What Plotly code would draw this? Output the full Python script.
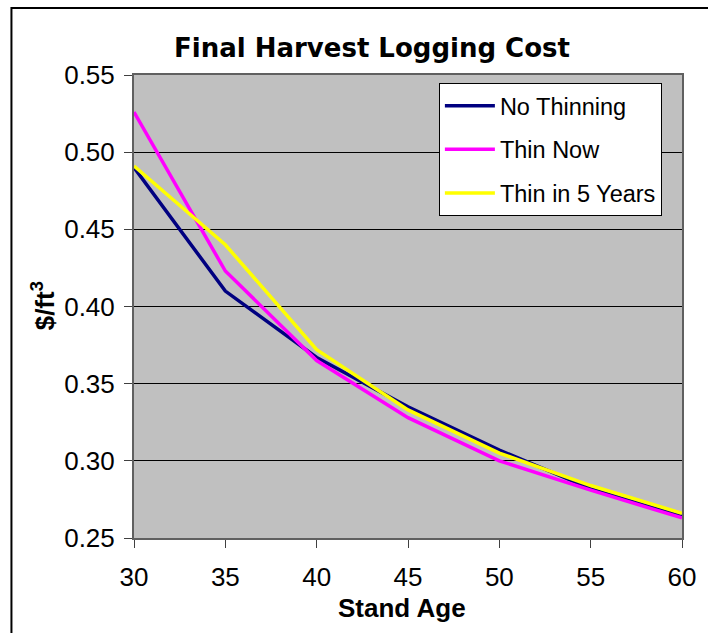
import plotly.graph_objects as go

stand_age = [30, 35, 40, 45, 50, 55, 60]
no_thinning = [0.490, 0.410, 0.367, 0.335, 0.307, 0.282, 0.264]
thin_now = [0.526, 0.423, 0.365, 0.328, 0.300, 0.281, 0.263]
thin_in_5 = [0.491, 0.440, 0.372, 0.333, 0.305, 0.284, 0.266]

series_names = ["No Thinning", "Thin Now", "Thin in 5 Years"]
series_colors = ["#000080", "#FF00FF", "#FFFF00"]
series_values = [no_thinning, thin_now, thin_in_5]

y_ticks = [0.25, 0.30, 0.35, 0.40, 0.45, 0.50, 0.55]
x_ticks = [30, 35, 40, 45, 50, 55, 60]

FONT = "Arial, Liberation Sans, sans-serif"
TITLE_FONT = "DejaVu Sans, Arial, sans-serif"

fig = go.Figure()
for i, (name, color, vals) in enumerate(zip(series_names, series_colors, series_values)):
    fig.add_trace(go.Scatter(
        x=stand_age, y=vals, mode="lines", name=name,
        line=dict(color=color, width=3.5),
        legendgroup=f"g{i}",
    ))

L, R, T, B = 134, 24, 75, 95
W, H = 708, 633
pw = W - L - R
ph = H - T - B

def px_x(px):
    return (px - L) / pw

def px_y(py):
    return (H - B - py) / ph

fig.update_layout(
    width=W, height=H,
    margin=dict(l=L, r=R, t=T, b=B, pad=0),
    paper_bgcolor="white",
    plot_bgcolor="#C0C0C0",
    font=dict(family=FONT, size=24, color="black"),
    showlegend=True,
    legend=dict(
        x=px_x(440), y=px_y(83), xanchor="left", yanchor="top",
        bgcolor="white", bordercolor="black", borderwidth=1,
        font=dict(family=FONT, size=23.5, color="black"),
        tracegroupgap=10, itemwidth=50,
    ),
    xaxis=dict(
        range=[30, 60], tickvals=x_ticks, ticktext=[str(v) for v in x_ticks],
        showgrid=False, zeroline=False,
        showline=True, linecolor="#606060", linewidth=2, mirror=True,
        ticks="outside", ticklen=8, tickcolor="#404040", tickwidth=1,
        ticklabelstandoff=7,
        tickfont=dict(family=FONT, size=26, color="black"),
    ),
    yaxis=dict(
        range=[0.25, 0.55], tickvals=y_ticks, ticktext=[f"{v:.2f}" for v in y_ticks],
        showgrid=True, gridcolor="black", gridwidth=1, zeroline=False,
        showline=True, linecolor="#606060", linewidth=2, mirror=True,
        ticks="outside", ticklen=8, tickcolor="#404040", tickwidth=1,
        ticklabelstandoff=4,
        tickfont=dict(family=FONT, size=26, color="black"),
    ),
    annotations=[
        dict(text="<b>Final Harvest Logging Cost</b>", xref="paper", yref="paper",
             x=px_x(172), y=px_y(48), xanchor="left", yanchor="middle",
             showarrow=False, font=dict(family=TITLE_FONT, size=26, color="black")),
        dict(text="<b>Stand Age</b>", xref="paper", yref="paper",
             x=px_x(403), y=px_y(608), xanchor="center", yanchor="middle",
             showarrow=False, font=dict(family=FONT, size=26, color="black")),
        dict(text="<b>$/ft<sup>3</sup></b>", xref="paper", yref="paper",
             x=px_x(43), y=px_y(306), xanchor="center", yanchor="middle",
             textangle=-90, showarrow=False,
             font=dict(family=FONT, size=26, color="black")),
    ],
    shapes=[
        dict(type="rect", xref="paper", yref="paper",
             x0=px_x(11), x1=px_x(760), y0=px_y(700), y1=px_y(8),
             line=dict(color="black", width=2), fillcolor="rgba(0,0,0,0)", layer="above"),
    ],
)

fig.write_html("out.html")
